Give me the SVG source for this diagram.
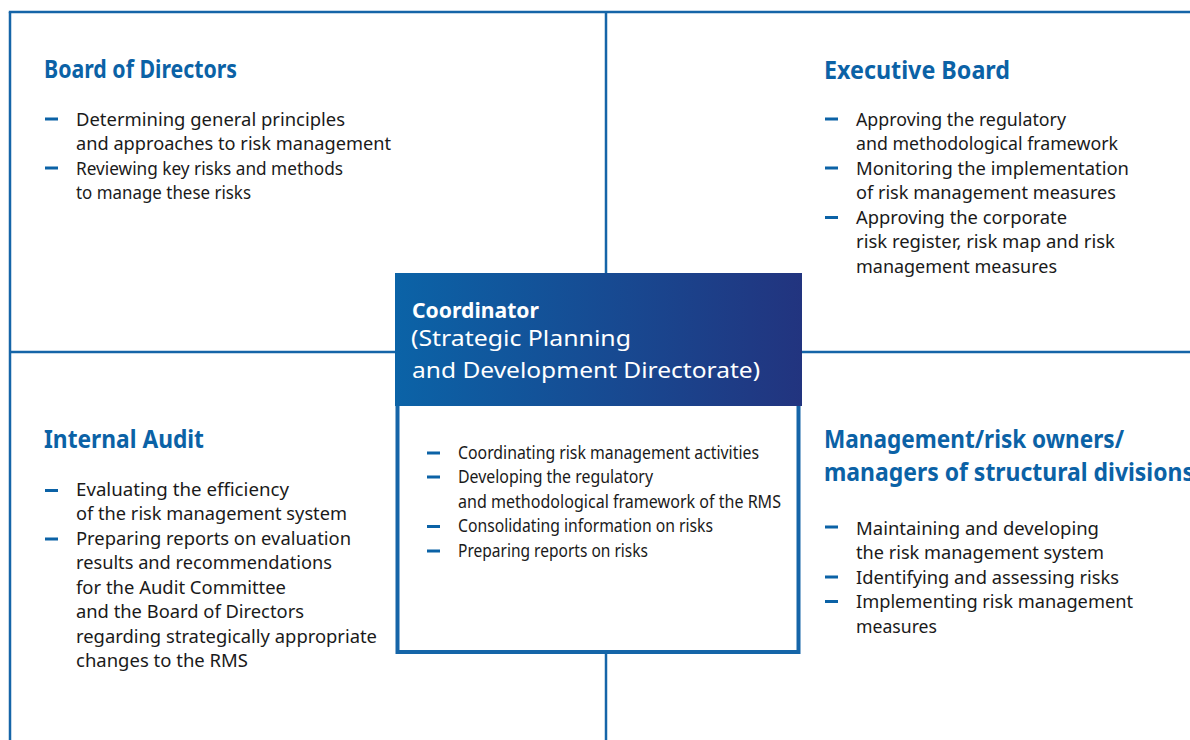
<svg xmlns="http://www.w3.org/2000/svg" width="1190" height="740" viewBox="0 0 1190 740">
  <defs>
    <linearGradient id="hdrGrad" x1="0" y1="0" x2="1" y2="0">
      <stop offset="0" stop-color="#0b63a7"/>
      <stop offset="1" stop-color="#22347f"/>
    </linearGradient>
    <style>
      .line { stroke: #1565a8; stroke-width: 2.5; fill: none; }
      .head { font-family: "Noto Sans", "Open Sans", sans-serif; font-weight: 700; font-size: 25px; fill: #0b62a6; }
      .item { font-family: "Noto Sans", "Open Sans", sans-serif; font-size: 18.5px; fill: #1a1a1a; }
      .citem { font-family: "Noto Sans", "Open Sans", sans-serif; font-size: 18px; fill: #1a1a1a; }
      .ctitle { font-family: "Noto Sans", "Open Sans", sans-serif; font-weight: 700; font-size: 22px; fill: #ffffff; }
      .csub { font-family: "Noto Sans", "Open Sans", sans-serif; font-size: 22px; fill: #ffffff; }
      .dash { fill: #0b62a6; }
    </style>
  </defs>

  <rect width="1190" height="740" fill="#ffffff"/>

  <!-- frame and dividing lines -->
  <g id="connectors">
    <line class="line" x1="8.8" y1="12" x2="1190" y2="12"/>
    <line class="line" x1="10" y1="12" x2="10" y2="740"/>
    <line class="line" x1="606" y1="12" x2="606" y2="273"/>
    <line class="line" x1="606" y1="654" x2="606" y2="740"/>
    <line class="line" x1="10" y1="352" x2="395" y2="352"/>
    <line class="line" x1="802" y1="352" x2="1190" y2="352"/>
  </g>

  <!-- top-left quadrant -->
  <g id="board-of-directors">
    <text class="head" x="44" y="78" textLength="193" lengthAdjust="spacingAndGlyphs">Board of Directors</text>
    <rect class="dash" x="45" y="117.5" width="13" height="3"/>
    <text class="item" x="76" y="126" textLength="269" lengthAdjust="spacingAndGlyphs">Determining general principles</text>
    <text class="item" x="76" y="150" textLength="315" lengthAdjust="spacingAndGlyphs">and approaches to risk management</text>
    <rect class="dash" x="45" y="166.5" width="13" height="3"/>
    <text class="item" x="76" y="175" textLength="267" lengthAdjust="spacingAndGlyphs">Reviewing key risks and methods</text>
    <text class="item" x="76" y="199" textLength="175" lengthAdjust="spacingAndGlyphs">to manage these risks</text>
  </g>

  <!-- top-right quadrant -->
  <g id="executive-board">
    <text class="head" x="824" y="79" textLength="186" lengthAdjust="spacingAndGlyphs">Executive Board</text>
    <rect class="dash" x="825" y="117.5" width="13" height="3"/>
    <text class="item" x="856" y="126" textLength="210" lengthAdjust="spacingAndGlyphs">Approving the regulatory</text>
    <text class="item" x="856" y="150" textLength="262" lengthAdjust="spacingAndGlyphs">and methodological framework</text>
    <rect class="dash" x="825" y="166.5" width="13" height="3"/>
    <text class="item" x="856" y="175" textLength="273" lengthAdjust="spacingAndGlyphs">Monitoring the implementation</text>
    <text class="item" x="856" y="199" textLength="260" lengthAdjust="spacingAndGlyphs">of risk management measures</text>
    <rect class="dash" x="825" y="216" width="13" height="3"/>
    <text class="item" x="856" y="224" textLength="211" lengthAdjust="spacingAndGlyphs">Approving the corporate</text>
    <text class="item" x="856" y="248" textLength="259" lengthAdjust="spacingAndGlyphs">risk register, risk map and risk</text>
    <text class="item" x="856" y="273" textLength="201" lengthAdjust="spacingAndGlyphs">management measures</text>
  </g>

  <!-- bottom-left quadrant -->
  <g id="internal-audit">
    <text class="head" x="44" y="448" textLength="160" lengthAdjust="spacingAndGlyphs">Internal Audit</text>
    <rect class="dash" x="45" y="489" width="13" height="3"/>
    <text class="item" x="76" y="496" textLength="213" lengthAdjust="spacingAndGlyphs">Evaluating the efficiency</text>
    <text class="item" x="76" y="520" textLength="271" lengthAdjust="spacingAndGlyphs">of the risk management system</text>
    <rect class="dash" x="45" y="537.5" width="13" height="3"/>
    <text class="item" x="76" y="545" textLength="275" lengthAdjust="spacingAndGlyphs">Preparing reports on evaluation</text>
    <text class="item" x="76" y="569" textLength="256" lengthAdjust="spacingAndGlyphs">results and recommendations</text>
    <text class="item" x="76" y="594" textLength="210" lengthAdjust="spacingAndGlyphs">for the Audit Committee</text>
    <text class="item" x="76" y="618" textLength="228" lengthAdjust="spacingAndGlyphs">and the Board of Directors</text>
    <text class="item" x="76" y="643" textLength="301" lengthAdjust="spacingAndGlyphs">regarding strategically appropriate</text>
    <text class="item" x="76" y="667" textLength="172" lengthAdjust="spacingAndGlyphs">changes to the RMS</text>
  </g>

  <!-- bottom-right quadrant; the second heading line runs past the right edge -->
  <g id="risk-owners">
    <text class="head" x="824" y="448" textLength="300" lengthAdjust="spacingAndGlyphs">Management/risk owners/</text>
    <text class="head" x="824" y="481" textLength="370" lengthAdjust="spacingAndGlyphs">managers of structural divisions</text>
    <rect class="dash" x="825" y="525.5" width="13" height="3"/>
    <text class="item" x="856" y="535" textLength="243" lengthAdjust="spacingAndGlyphs">Maintaining and developing</text>
    <text class="item" x="856" y="559" textLength="248" lengthAdjust="spacingAndGlyphs">the risk management system</text>
    <rect class="dash" x="825" y="575.5" width="13" height="3"/>
    <text class="item" x="856" y="584" textLength="263" lengthAdjust="spacingAndGlyphs">Identifying and assessing risks</text>
    <rect class="dash" x="825" y="600" width="13" height="3"/>
    <text class="item" x="856" y="608" textLength="277" lengthAdjust="spacingAndGlyphs">Implementing risk management</text>
    <text class="item" x="856" y="633" textLength="81" lengthAdjust="spacingAndGlyphs">measures</text>
  </g>

  <!-- central coordinator box -->
  <g id="coordinator">
    <rect x="397.5" y="400" width="401" height="252" fill="#ffffff" stroke="#1565a8" stroke-width="4"/>
    <rect x="395" y="273" width="407" height="133" fill="url(#hdrGrad)"/>
    <text class="ctitle" x="412" y="318" textLength="127" lengthAdjust="spacingAndGlyphs">Coordinator</text>
    <text class="csub" x="411" y="346" textLength="220" lengthAdjust="spacingAndGlyphs">(Strategic Planning</text>
    <text class="csub" x="412" y="378" textLength="348" lengthAdjust="spacingAndGlyphs">and Development Directorate)</text>
    <rect class="dash" x="427" y="451.5" width="13" height="3"/>
    <text class="citem" x="458" y="459" textLength="301" lengthAdjust="spacingAndGlyphs">Coordinating risk management activities</text>
    <rect class="dash" x="427" y="475.5" width="13" height="3"/>
    <text class="citem" x="458" y="483" textLength="195" lengthAdjust="spacingAndGlyphs">Developing the regulatory</text>
    <text class="citem" x="458" y="508" textLength="323" lengthAdjust="spacingAndGlyphs">and methodological framework of the RMS</text>
    <rect class="dash" x="427" y="525" width="13" height="3"/>
    <text class="citem" x="458" y="532" textLength="255" lengthAdjust="spacingAndGlyphs">Consolidating information on risks</text>
    <rect class="dash" x="427" y="549.5" width="13" height="3"/>
    <text class="citem" x="458" y="557" textLength="190" lengthAdjust="spacingAndGlyphs">Preparing reports on risks</text>
  </g>
</svg>
